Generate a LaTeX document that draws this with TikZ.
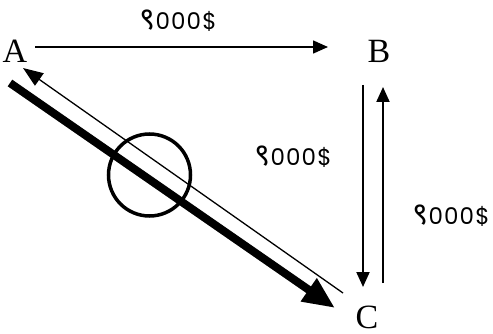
\documentclass[tikz,border=0pt]{standalone}
\usepackage{fontspec}
\setmainfont{Liberation Serif}
\newfontfamily\amountfont[LetterSpace=5]{Poppins}
\newfontfamily\devfont[Script=Devanagari]{Noto Sans}
\newcommand{\nineK}{{\devfont\fontsize{31}{34}\selectfont ९}000\$}
\usetikzlibrary{arrows.meta}

\begin{document}
\begin{tikzpicture}[x=1pt, y=-1pt,
  vertex/.style={font=\fontsize{34}{38}\selectfont, inner sep=0pt},
  amount/.style={font=\amountfont\fontsize{23}{27}\selectfont, inner sep=0pt},
  flow/.style={line width=1.6pt, -{Triangle[length=15pt,width=13pt]}}]
  \useasboundingbox (0,0) rectangle (493,334);
  % corners
  \node[vertex] (A) at (15,51) {A};
  \node[vertex] (B) at (379,51) {B};
  \node[vertex] (C) at (367,317) {C};
  % amounts
  \node[amount] (ab) at (178,21) {\nineK};
  \node[amount] (bc) at (293,157) {\nineK};
  \node[amount] (cb) at (451,216) {\nineK};
  % arrow ends
  \coordinate (a-out) at (35,47);
  \coordinate (b-in) at (328,47);
  \coordinate (b-down) at (363,85);
  \coordinate (c-in) at (363,287);
  \coordinate (c-up) at (383,283);
  \coordinate (b-up) at (383,87);
  \coordinate (c-back) at (343,293);
  \coordinate (a-in) at (23,68);
  \coordinate (a-thick) at (10,83);
  \coordinate (c-thick) at (335,308);
  \draw[flow] (a-out) -- (b-in);
  \draw[flow, line width=2pt] (b-down) -- (c-in);
  \draw[flow, line width=2pt] (c-up) -- (b-up);
  \draw[line width=1.3pt, -{Triangle[length=20pt,width=15pt]}] (c-back) -- (a-in);
  % thick arrow with shadow
  \draw[line width=8pt, black!20, opacity=0.7, shift={(3,5)},
    -{Triangle[length=32pt,width=26pt]}] (a-thick) -- (c-thick);
  \draw[line width=8pt, -{Triangle[length=32pt,width=26pt]}] (a-thick) -- (c-thick);
  \node[circle, draw, line width=3.5pt, minimum size=82pt] (ring) at (149.5,175) {};
\end{tikzpicture}
\end{document}
